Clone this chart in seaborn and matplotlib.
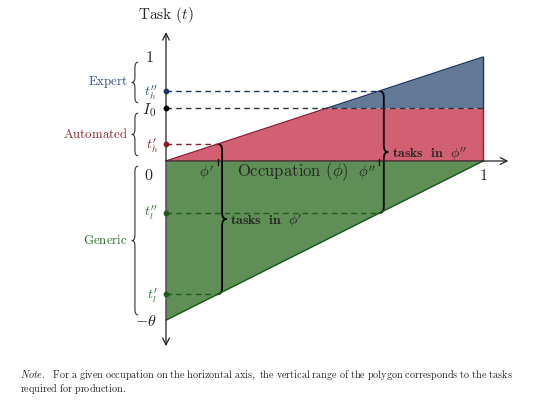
import numpy as np
import pandas as pd
import matplotlib
matplotlib.use("Agg")
import matplotlib.pyplot as plt
from matplotlib.path import Path
from matplotlib.patches import PathPatch
import seaborn as sns

# ---- data ----
theta = 1.53          # lower vertex at -theta
I0 = 0.51             # automation threshold
phi_p = 0.163         # occupation phi'
phi_pp = 0.673        # occupation phi''
occupation = [0.0, 1.0]
top_task = [0.0, 1.0]          # upper edge t = phi
bottom_task = [-theta, 0.0]    # lower edge t = theta*(phi-1)

t_h_p = np.interp(phi_p, occupation, top_task)
t_h_pp = np.interp(phi_pp, occupation, top_task)
t_l_p = np.interp(phi_p, occupation, bottom_task)
t_l_pp = np.interp(phi_pp, occupation, bottom_task)

group_names = ["Expert", "Automated", "Generic"]
group_ranges = [(1.0, I0), (I0, 0.0), (0.0, -theta)]

# ---- styles ----
BLUE_F, BLUE_E, BLUE_T = "#637a97", "#1c3560", "#2f4b7c"
RED_F, RED_E, RED_T = "#d35f72", "#8a1c30", "#8e2a38"
GRN_F, GRN_E, GRN_T = "#5f8f57", "#1e5a1e", "#2f6e2f"

sns.set_theme(style="white")
plt.rcParams["mathtext.fontset"] = "cm"
plt.rcParams["font.family"] = ["DejaVu Serif", "DejaVu Sans"]

fig = plt.figure(figsize=(5.33, 4.08), dpi=100)
ax = fig.add_axes([0, 0, 1, 1])
# pixel mapping: x=0 -> 166 px, x=1 -> 483 px ; y=0 -> 161 px, y=1 -> 57 px (from top)
ax.set_xlim(-166 / 317, (533 - 166) / 317)
ax.set_ylim((161 - 408) / 104, 161 / 104)
ax.axis("off")

def cm(s):
    return r"$\mathrm{" + s.replace(" ", r"\ ") + "}$"

# ---- regions ----
ax.fill_between([0, I0, 1], [0, 0, 0], [0, I0, I0], color=RED_F, lw=0)
ax.fill_between([I0, 1], [I0, I0], [I0, 1], color=BLUE_F, lw=0)
ax.fill_between(occupation, bottom_task, [0, 0], color=GRN_F, lw=0)

edges = pd.DataFrame({
    "x": [0, I0, I0, 1, 1, 1, 1, 1, 0, 1],
    "y": [0, I0, I0, 1, 1, I0, I0, 0, -theta, 0],
    "seg": ["r", "r", "b", "b", "b2", "b2", "r2", "r2", "g", "g"],
})
pal = {"r": RED_E, "b": BLUE_E, "b2": BLUE_E, "r2": RED_E, "g": GRN_E}
sns.lineplot(data=edges, x="x", y="y", hue="seg", palette=pal, sort=False,
             estimator=None, units="seg", lw=1.0, legend=False, ax=ax)

# ---- axes arrows ----
ax.annotate("", xy=(1.08, 0), xytext=(0, 0),
            arrowprops=dict(arrowstyle="->", lw=0.9, color="#222222", shrinkA=0, shrinkB=0))
ax.annotate("", xy=(0, 1.24), xytext=(0, -1.78),
            arrowprops=dict(arrowstyle="<->", lw=0.9, color="#222222", shrinkA=0, shrinkB=0))

# ---- dashed guide lines ----
dash = dict(ls=(0, (4, 3)), lw=1.0)
ax.plot([0, phi_pp], [t_h_pp, t_h_pp], color=BLUE_E, **dash)
ax.plot([0, 1], [I0, I0], color="#333333", **dash)
ax.plot([0, phi_p], [t_h_p, t_h_p], color=RED_E, **dash)
ax.plot([0, phi_pp], [t_l_pp, t_l_pp], color=GRN_E, **dash)
ax.plot([0, phi_p], [t_l_p, t_l_p], color=GRN_E, **dash)

# dots on the vertical axis
for yv, c in [(t_h_pp, BLUE_E), (I0, "black"), (t_h_p, RED_E), (t_l_pp, GRN_E), (t_l_p, GRN_E)]:
    ax.plot([0], [yv], "o", color=c, ms=3.2, zorder=5)

# ticks at phi', phi''
for xv in (phi_p, phi_pp):
    ax.plot([xv, xv], [-0.035, 0.02], color="black", lw=1.0)

# ---- braces ----
def brace(x, y0, y1, w, r, **kw):
    ym = (y0 + y1) / 2
    s = 1 if y1 > y0 else -1
    xh = x + w / 2
    verts = [(x, y0), (xh, y0), (xh, y0 + s * r),
             (xh, ym - s * r),
             (xh, ym), (x + w, ym),
             (xh, ym), (xh, ym + s * r),
             (xh, y1 - s * r),
             (xh, y1), (x, y1)]
    codes = [Path.MOVETO, Path.CURVE3, Path.CURVE3,
             Path.LINETO,
             Path.CURVE3, Path.CURVE3,
             Path.CURVE3, Path.CURVE3,
             Path.LINETO,
             Path.CURVE3, Path.CURVE3]
    ax.add_patch(PathPatch(Path(verts, codes), fill=False, **kw))

brace(phi_p, t_h_p, t_l_p, 0.028, 0.06, lw=1.3, color="black")
brace(phi_pp, t_h_pp, t_l_pp, 0.028, 0.06, lw=1.3, color="black")

gap = 0.05
for (a, b) in group_ranges:
    brace(-0.088, a - gap, b + gap, -0.02, 0.05, lw=0.8, color="#333333")

# ---- texts ----
ax.text(0, 1.40, cm("Task") + r" $(t)$", ha="center", va="center", fontsize=11)
ax.text(0.40, -0.10, cm("Occupation") + r" $(\phi)$", ha="center", va="center", fontsize=12)
ax.text(1.0, -0.14, r"$1$", ha="center", va="center", fontsize=11.5)
ax.text(-0.04, -0.14, r"$0$", ha="right", va="center", fontsize=11.5)
ax.text(-0.04, 1.0, r"$1$", ha="right", va="center", fontsize=11.5)
ax.text(-0.03, I0 - 0.02, r"$I_0$", ha="right", va="center", fontsize=11.5)
ax.text(-0.03, -theta - 0.01, r"$-\theta$", ha="right", va="center", fontsize=11.5)

ax.text(-0.025, t_h_pp - 0.02, r"$t_h^{\prime\prime}$", ha="right", va="center", fontsize=10, color=BLUE_T)
ax.text(-0.025, t_h_p - 0.02, r"$t_h^{\prime}$", ha="right", va="center", fontsize=10, color=RED_T)
ax.text(-0.025, t_l_pp, r"$t_l^{\prime\prime}$", ha="right", va="center", fontsize=10, color=GRN_T)
ax.text(-0.025, t_l_p - 0.02, r"$t_l^{\prime}$", ha="right", va="center", fontsize=10, color=GRN_T)

ax.text(phi_p - 0.035, -0.11, r"$\phi^{\prime}$", ha="center", va="center", fontsize=10.5)
ax.text(phi_pp - 0.04, -0.11, r"$\phi^{\prime\prime}$", ha="center", va="center", fontsize=10.5)

ax.text(phi_p + 0.04, (t_h_p + t_l_p) / 2 - 0.02, r"$\mathbf{tasks\ \ in}\ \ \phi^{\prime}$",
        ha="left", va="center", fontsize=10)
ax.text(phi_pp + 0.04, (t_h_pp + t_l_pp) / 2 - 0.02, r"$\mathbf{tasks\ \ in}\ \ \phi^{\prime\prime}$",
        ha="left", va="center", fontsize=10)

for name, (a, b), c in zip(group_names, group_ranges, [BLUE_T, RED_T, GRN_T]):
    ax.text(-0.12, (a + b) / 2, cm(name), ha="right", va="center", fontsize=9.3, color=c)

note1 = r"$\mathit{Note.}$  " + cm("For a given occupation on the horizontal axis, the vertical range of the polygon corresponds to the tasks")
note2 = cm("required for production.")
fig.text(20 / 533, 1 - 375 / 408, note1, ha="left", va="center", fontsize=7.3)
fig.text(20 / 533, 1 - 389 / 408, note2, ha="left", va="center", fontsize=7.3)

fig.savefig("out.png", dpi=100)
